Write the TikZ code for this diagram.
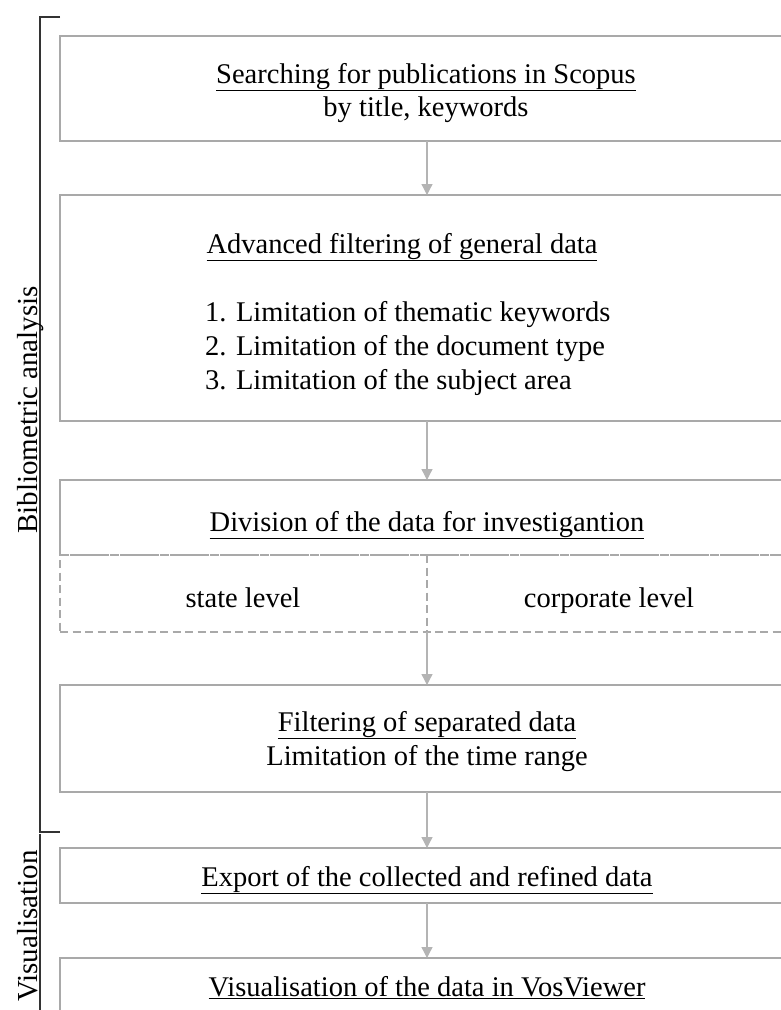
\documentclass[tikz,border=0pt]{standalone}
\usepackage{fontspec}
\setmainfont{Liberation Serif}
\usetikzlibrary{arrows.meta}
\definecolor{boxgray}{HTML}{A9A9A9}
\definecolor{arrgray}{HTML}{B4B4B4}
\tikzset{
  box/.style={draw=boxgray, line width=2pt, minimum width=734pt, inner sep=0pt, outer sep=0pt},
  dbox/.style={draw=boxgray, line width=2pt, dash pattern=on 8pt off 4.5pt, minimum width=734pt, inner sep=0pt, outer sep=0pt},
  arr/.style={draw=arrgray, line width=1.3pt, -{Triangle[width=11pt,length=11pt]}},
  txt/.style={font=\fontsize{28.5}{34}\selectfont, inner sep=0pt, anchor=base},
  brace/.style={draw=black!80, line width=1.1pt},
  side/.style={font=\fontsize{29}{34}\selectfont, rotate=90, inner sep=0pt, anchor=base}
}
\begin{document}
\begin{tikzpicture}[x=1pt,y=-1pt]
\useasboundingbox (0,0) rectangle (781,1010);
\clip (0,0) rectangle (781,1010);
% boxes
\node[box, minimum height=105pt] (b1) at (427,88.5) {};
\node[box, minimum height=226pt] (b2) at (427,308) {};
\coordinate (b3nw) at (60,480);
\coordinate (b3ne) at (794,480);
\coordinate (b3sw) at (60,555);
\coordinate (b3se) at (794,555);
\draw[boxgray, line width=2pt] (b3sw) -- (b3nw) -- (b3ne) -- (b3se);
\node[dbox, minimum height=77pt] (b3d) at (427,593.5) {};
\draw[boxgray, line width=2pt, dash pattern=on 9pt off 1pt] (b3sw) -- (b3se);
\coordinate (b3mid) at (427,555);
\draw[boxgray, line width=2pt, dash pattern=on 8pt off 4.5pt] (b3mid) -- (b3d.south);
\node[box, minimum height=107pt] (b4) at (427,738.5) {};
\node[box, minimum height=55pt] (b5) at (427,875.5) {};
\node[box, minimum height=80pt] (b6) at (427,998) {};
% arrows
\draw[arr] (b1.south) -- (b2.north);
\draw[arr] (b2.south) -- (b3nw -| b2.south);
\draw[arr] (b3d.south) -- (b4.north);
\draw[arr] (b4.south) -- (b5.north);
\draw[arr] (b5.south) -- (b6.north);
% texts
\node[txt] (t1a) at (426,83) {\underline{Searching for publications in Scopus}};
\node[txt] (t1b) at (426,116) {by title, keywords};
\node[txt] (t2a) at (402,253) {\underline{Advanced filtering of general data}};
\node[txt, anchor=base west] (t2b) at (205,321) {1. Limitation of thematic keywords};
\node[txt, anchor=base west] (t2c) at (205,355) {2. Limitation of the document type};
\node[txt, anchor=base west] (t2d) at (205,389) {3. Limitation of the subject area};
\node[txt] (t3) at (427,531) {\underline{Division of the data for investigantion}};
\node[txt] (t3a) at (243,607) {state level};
\node[txt] (t3b) at (609,607) {corporate level};
\node[txt] (t4a) at (427,731) {\underline{Filtering of separated data}};
\node[txt] (t4b) at (427,765) {Limitation of the time range};
\node[txt] (t5) at (427,886) {\underline{Export of the collected and refined data}};
\node[txt] (t6) at (427,996) {\underline{Visualisation of the data in VosViewer}};
% side brackets
\coordinate (br1t) at (60,17);
\coordinate (br1c) at (40,17);
\coordinate (br1b) at (40,832);
\coordinate (br1e) at (60,832);
\draw[brace] (br1t) -- (br1c) -- (br1b) -- (br1e);
\coordinate (br2t) at (40,834);
\coordinate (br2b) at (40,1012);
\draw[brace] (br2t) -- (br2b);
\node[side] (s1) at (37,410) {Bibliometric analysis};
\node[side] (s2) at (37,926) {Visualisation};
\end{tikzpicture}
\end{document}
